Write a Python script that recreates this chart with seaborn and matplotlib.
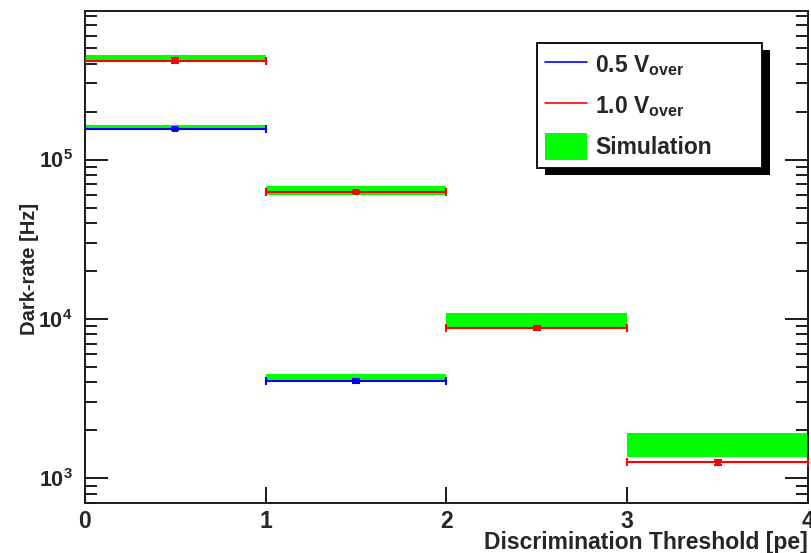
import numpy as np
import matplotlib
matplotlib.use("Agg")
import matplotlib.pyplot as plt
import seaborn as sns
from matplotlib import font_manager
from matplotlib.lines import Line2D
from matplotlib.patches import Patch, Rectangle
from matplotlib.ticker import FixedLocator, LogLocator, NullFormatter
from matplotlib.transforms import IdentityTransform

# ---------------- data ----------------
bin_width = 1.0
bin_left_05 = [0.0, 1.0]
bin_left_10 = [0.0, 1.0, 2.0, 3.0]
rate_05 = [1.56e5, 4.09e3]
err_05 = [2.3e3, 1.2e2]
rate_10 = [4.18e5, 6.25e4, 8.75e3, 1.26e3]
err_10 = [1.6e4, 1.2e3, 2.6e2, 4.7e1]
sim_lo_05 = [1.55e5, 4.08e3]
sim_hi_05 = [1.64e5, 4.50e3]
sim_lo_10 = [4.16e5, 6.00e4, 8.80e3, 1.37e3]
sim_hi_10 = [4.50e5, 6.80e4, 1.09e4, 1.92e3]
x_ticks = [0, 1, 2, 3, 4]
x_tick_labels = ["0", "1", "2", "3", "4"]
y_ticks = [1e3, 1e4, 1e5]
y_tick_labels = [r"$\mathbf{10^{3}}$", r"$\mathbf{10^{4}}$", r"$\mathbf{10^{5}}$"]
legend_labels = [r"0.5 V$_{\mathbf{over}}$", r"1.0 V$_{\mathbf{over}}$", "Simulation"]
x_title = "Discrimination Threshold [pe]"
y_title = "Dark-rate [Hz]"

# ---------------- style ----------------
sns.set_theme(style="white")
plt.rcParams["font.family"] = ["Liberation Sans", "DejaVu Sans"]
plt.rcParams["font.weight"] = "bold"
plt.rcParams["mathtext.fontset"] = "custom"
plt.rcParams["mathtext.rm"] = "Liberation Sans:bold"
plt.rcParams["mathtext.bf"] = "Liberation Sans:bold"
plt.rcParams["mathtext.it"] = "Liberation Sans:bold"
plt.rcParams["mathtext.default"] = "bf"

installed = {f.name for f in font_manager.fontManager.ttflist}
if "Liberation Sans Narrow" in installed:
    ytitle_family, ytitle_size = ["Liberation Sans Narrow", "Liberation Sans"], 17
else:
    ytitle_family, ytitle_size = ["Liberation Sans", "DejaVu Sans"], 14.5

BLUE = "#0000ff"
RED = "#ff0000"
GREEN = "#00ff00"
FRAME = "#1a1a1a"

fig = plt.figure(figsize=(8.12, 5.53), dpi=100)
W, H = 812, 553
ax = fig.add_axes([85 / W, (H - 503) / H, 723 / W, 492 / H])
ax.set_yscale("log")

# simulation bands
for lefts, lo, hi in [(bin_left_05, sim_lo_05, sim_hi_05), (bin_left_10, sim_lo_10, sim_hi_10)]:
    lo = np.asarray(lo)
    hi = np.asarray(hi)
    ax.bar(lefts, hi - lo, bottom=lo, width=bin_width, align="edge",
           color=GREEN, linewidth=0, zorder=2)

# measured points
for lefts, rate, err, col in [(bin_left_05, rate_05, err_05, BLUE),
                              (bin_left_10, rate_10, err_10, RED)]:
    centers = np.asarray(lefts) + bin_width / 2
    ax.errorbar(centers, rate, xerr=bin_width / 2, yerr=err, fmt="none",
                ecolor=col, elinewidth=1.5, capsize=3, capthick=1.5, zorder=3)
    sns.scatterplot(x=centers, y=rate, marker="s", s=18, color=col,
                    edgecolor=col, linewidth=0, ax=ax, zorder=4, legend=False)

ax.set_xlim(0, 4)
ax.set_ylim(700, 8.55e5)

# ticks
ax.xaxis.set_major_locator(FixedLocator(x_ticks))
ax.set_xticklabels(x_tick_labels)
ax.yaxis.set_major_locator(FixedLocator(y_ticks))
ax.set_yticklabels(y_tick_labels)
ax.yaxis.set_minor_locator(LogLocator(base=10, subs=np.arange(2, 10), numticks=20))
ax.yaxis.set_minor_formatter(NullFormatter())
ax.tick_params(which="both", direction="in", top=False, right=True,
               left=True, bottom=True, color=FRAME, width=1.4)
ax.tick_params(axis="y", which="major", length=16.5, pad=9, labelsize=15.5)
ax.tick_params(axis="y", which="minor", length=8.5)
ax.tick_params(axis="x", which="major", length=11.5, pad=5, labelsize=16.5)
for lab in ax.get_xticklabels() + ax.get_yticklabels():
    lab.set_fontweight("bold")

for sp in ax.spines.values():
    sp.set_color(FRAME)
    sp.set_linewidth(1.4)

ax.set_xlabel(x_title, fontsize=16.5, fontweight="bold", loc="right")
ax.xaxis.set_label_coords(1.0, -0.0565)
ax.set_ylabel(y_title, fontsize=ytitle_size, fontweight="bold", family=ytitle_family)
ax.yaxis.set_label_coords(-0.063, 0.476)

# legend
handles = [Line2D([], [], color=BLUE, lw=1.2),
           Line2D([], [], color=RED, lw=1.2),
           Patch(facecolor=GREEN, edgecolor="none")]
leg_h = 0.01
leg = ax.legend(handles, legend_labels, loc="upper left",
                bbox_to_anchor=((537 - 85) / 723, (503 - 43) / 492 - leg_h,
                                (762 - 537) / 723, leg_h),
                mode="expand",
                borderaxespad=0, frameon=True, fancybox=False, shadow=False,
                edgecolor="black", framealpha=1, prop={"size": 16.5, "weight": "bold"},
                handlelength=1.85, handleheight=1.45, handletextpad=0.35,
                borderpad=0.35, labelspacing=0.6)
leg.get_frame().set_linewidth(1.3)
leg.set_zorder(10)

fig.canvas.draw()
bb = leg.get_window_extent()
shadow = Rectangle((bb.x0 + 8, bb.y0 - 7), bb.width, bb.height,
                   transform=IdentityTransform(), facecolor="black",
                   edgecolor="none", zorder=9, clip_on=False)
ax.add_patch(shadow)
ax.set_xlim(0, 4)
ax.set_ylim(700, 8.55e5)

fig.savefig("out.png", dpi=100)
